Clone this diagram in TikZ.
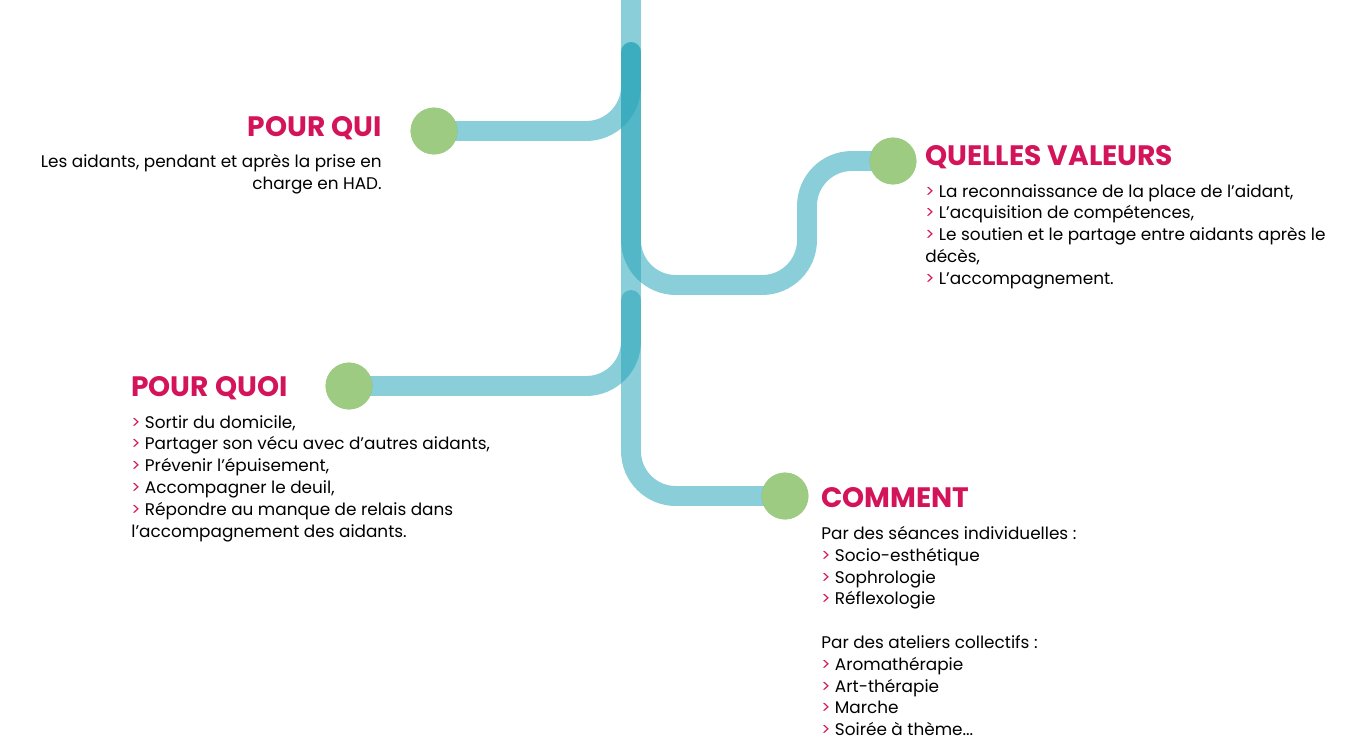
\documentclass[tikz,border=0pt]{standalone}
\usepackage{fontspec}
\setmainfont{Poppins}
\usetikzlibrary{positioning}
\definecolor{lineteal}{RGB}{40,165,185}
\definecolor{dotgreen}{RGB}{157,203,130}
\definecolor{rose}{RGB}{212,20,90}
\newcommand{\gt}{{\color{rose}>}\ }
\newlength{\pxu}\setlength{\pxu}{0.567pt}
\tikzset{
  branch/.style={draw=lineteal, opacity=0.55, line width=20\pxu, line cap=round, rounded corners=45\pxu},
  dot/.style={circle, fill=dotgreen, minimum size=47\pxu, inner sep=0pt},
  head/.style={text=rose, font=\fontsize{16}{18}\selectfont\bfseries, inner sep=0pt},
  body/.style={font=\fontsize{9.6}{12.4}\selectfont, inner sep=0pt}
}
\begin{document}
\begin{tikzpicture}[x=0.02cm,y=-0.02cm]
\useasboundingbox (0,0) rectangle (1368,752);
% stations
\coordinate (top) at (631,-20);
\node[dot] (qui) at (434,131) {};
\node[dot] (valeurs) at (893,161) {};
\node[dot] (quoi) at (349,386) {};
\node[dot] (comment) at (785,496) {};
% lines
\draw[branch] (top) -- (631,496) -- (comment.center);
\draw[branch] (qui.center) -- (631,131) -- (631,52);
\draw[branch] (631,52) -- (631,285) -- (807,285) -- (807,161) -- (valeurs.center);
\draw[branch] (quoi.center) -- (631,386) -- (631,300);
\node[dot] at (qui) {};
\node[dot] at (valeurs) {};
\node[dot] at (quoi) {};
\node[dot] at (comment) {};
% texts
\node[head, anchor=east] (quihead) at (382,128) {POUR QUI};
\node[body, anchor=north east, align=right] at (382,154)
  {Les aidants, pendant et après la prise en\\charge en HAD.};
\node[head, anchor=west] (valhead) at (925,157) {QUELLES VALEURS};
\node[body, anchor=north west, align=left] at (925,184)
  {\gt La reconnaissance de la place de l’aidant,\\
   \gt L’acquisition de compétences,\\
   \gt Le soutien et le partage entre aidants après le\\
   décès,\\
   \gt L’accompagnement.};
\node[head, anchor=west] (quoihead) at (131,388) {POUR QUOI};
\node[body, anchor=north west, align=left] at (131,415)
  {\gt Sortir du domicile,\\
   \gt Partager son vécu avec d'autres aidants,\\
   \gt Prévenir l'épuisement,\\
   \gt Accompagner le deuil,\\
   \gt Répondre au manque de relais dans\\
   l'accompagnement des aidants.};
\node[head, anchor=west] (commhead) at (821,498) {COMMENT};
\node[body, anchor=north west, align=left] at (821,526)
  {Par des séances individuelles :\\
   \gt Socio-esthétique\\
   \gt Sophrologie\\
   \gt Réflexologie\\[12.4pt]
   Par des ateliers collectifs :\\
   \gt Aromathérapie\\
   \gt Art-thérapie\\
   \gt Marche\\
   \gt Soirée à thème...};
\end{tikzpicture}
\end{document}
